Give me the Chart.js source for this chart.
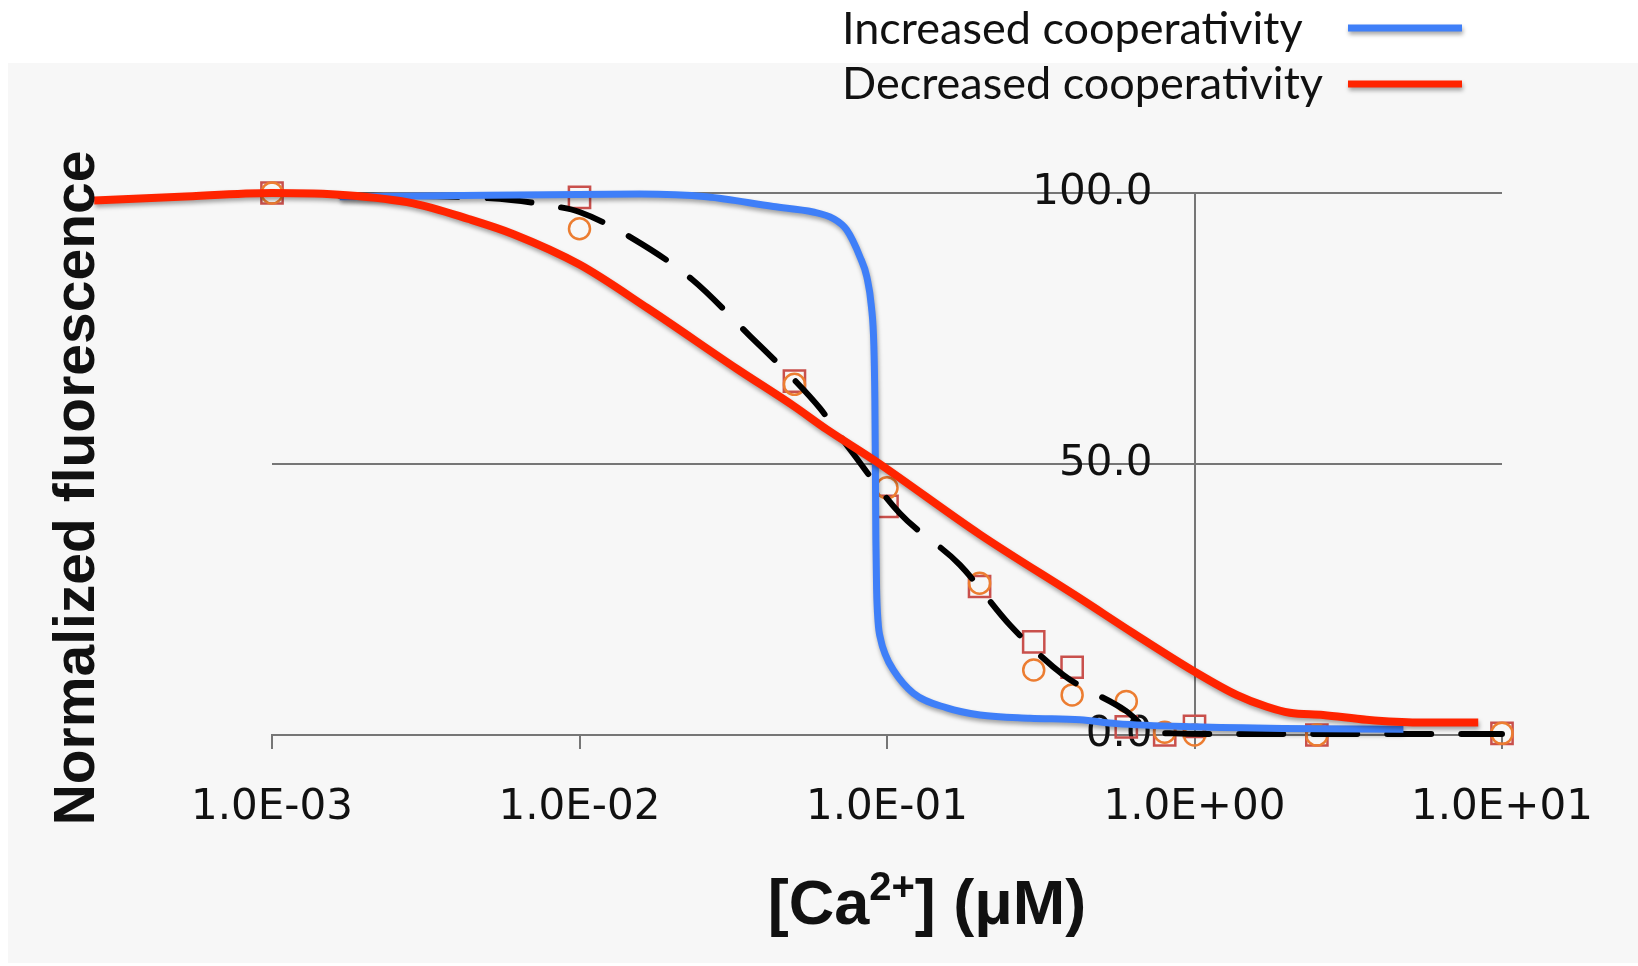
<!DOCTYPE html>
<html>
<head>
<meta charset="utf-8">
<title>Normalized fluorescence vs [Ca2+]</title>
<script src="https://cdn.jsdelivr.net/npm/chart.js@4.4.1/dist/chart.umd.min.js"></script>
<style>
  html, body { margin: 0; padding: 0; background: #ffffff; }
  #contenedor { position: relative; width: 1638px; height: 966px; overflow: hidden; }
  #fondo { position: absolute; left: 8px; top: 63px; width: 1630px; height: 900px; background: #f7f7f7; }
  #grafica { position: absolute; left: 0; top: 0; }
</style>
</head>
<body>
<div id="contenedor">
  <div id="fondo"></div>
  <canvas id="grafica" width="1638" height="966"></canvas>
</div>
<script>
// ==============================
// DATOS
// ==============================

// Ejes
const ticksX = [0.001, 0.01, 0.1, 1, 10];
const etiquetasX = ['1.0E-03', '1.0E-02', '1.0E-01', '1.0E+00', '1.0E+01'];
const ticksY = [0, 50, 100];
const etiquetasY = ['0.0', '50.0', '100.0'];

// Medidas: [Ca2+] (µM)
const xMedidas = [0.001, 0.01, 0.05, 0.1, 0.2, 0.3, 0.4, 0.6, 0.8, 1.0, 2.5, 10];
const yCuadrados = [100, 99.2, 65.3, 42.2, 27.4, 17.2, 12.5, 1.5, 0, 1.6, 0, 0.3];
const yCirculos = [100, 93.4, 64.7, 45.6, 28.0, 12.0, 7.4, 6.2, 0.5, 0, 0, 0.3];

// Ajuste (línea discontinua)
const xAjuste = [0.00166, 0.004, 0.006, 0.0082, 0.01, 0.015, 0.0233, 0.036, 0.05, 0.0605,
                 0.0767, 0.11, 0.1726, 0.251, 0.374, 0.6, 0.72, 0.85, 1.2, 10];
const yAjuste = [99.5, 99.3, 98.7, 97.6, 96.5, 91.5, 84, 73.5, 65.5, 60.3,
                 52.3, 40.9, 31.4, 20.3, 11.1, 4.4, 0.8, 0.3, 0.2, 0.2];

// Curva "Increased cooperativity"
const xAumentada = [0.00166, 0.005, 0.0157, 0.0259, 0.0427, 0.0575, 0.0668, 0.0739, 0.0817, 0.0860,
                    0.0890, 0.0906, 0.0913, 0.0917, 0.0920, 0.0925, 0.0935, 0.0955, 0.0985, 0.1048,
                    0.1218, 0.1565, 0.2006, 0.2917, 0.4246, 0.558, 1.0, 1.94, 4.78];
const yAumentada = [99.3, 99.6, 99.8, 99.3, 97.5, 96.5, 95.3, 93.2, 88.2, 84.5,
                    79, 72, 62, 48, 36, 27, 21, 17.5, 15.0, 12,
                    7.7, 5.0, 3.7, 3.1, 2.8, 2.1, 1.5, 1.2, 1.05];

// Curva "Decreased cooperativity"
const xDisminuida = [0.000264, 0.000502, 0.001, 0.00175, 0.00288, 0.00436, 0.0061, 0.01, 0.0166, 0.0326,
                     0.05, 0.0636, 0.0914, 0.2005, 0.4245, 0.632, 1.0, 1.37, 1.72, 2.04,
                     2.62, 3.63, 5.3, 8.37];
const yDisminuida = [98.6, 99.3, 100, 99.6, 98.1, 95.2, 92.4, 86.8, 78.8, 67.5,
                     60.6, 56.4, 50.6, 37, 25.2, 18.8, 11.7, 7.4, 5.2, 4.1,
                     3.7, 2.8, 2.3, 2.3];

const nombresSeries = ['Decreased cooperativity', 'Increased cooperativity'];

function puntos(xs, ys) {
    return xs.map((x, i) => ({ x: x, y: ys[i] }));
}

// ==============================
// PLUGIN: títulos, leyenda y sombra
// ==============================
const textosExtra = {
    id: 'textosExtra',

    beforeDatasetDraw(chart, args) {
        if (args.index > 1) return;
        const ctx = chart.ctx;
        ctx.save();
        ctx.shadowColor = 'rgba(0, 0, 0, 0.35)';
        ctx.shadowBlur = 4;
        ctx.shadowOffsetX = 1;
        ctx.shadowOffsetY = 3;
    },

    afterDatasetDraw(chart, args) {
        if (args.index > 1) return;
        chart.ctx.restore();
    },

    afterDraw(chart) {
        const ctx = chart.ctx;
        ctx.save();
        ctx.fillStyle = '#111111';
        ctx.textBaseline = 'alphabetic';

        // título eje Y
        ctx.font = 'bold 57px "Liberation Sans", Arial, sans-serif';
        ctx.textAlign = 'center';
        ctx.save();
        ctx.translate(94, 488);
        ctx.rotate(-Math.PI / 2);
        ctx.fillText('Normalized fluorescence', 0, 0);
        ctx.restore();

        // título eje X con superíndice
        const partes = [
            { t: '[Ca', size: 63, dy: 0 },
            { t: '2+', size: 40, dy: -24 },
            { t: '] (\u03BCM)', size: 63, dy: 0 }
        ];
        let ancho = 0;
        partes.forEach(p => {
            ctx.font = 'bold ' + p.size + 'px "Liberation Sans", Arial, sans-serif';
            p.w = ctx.measureText(p.t).width;
            ancho += p.w;
        });
        let x = 927 - ancho / 2;
        ctx.textAlign = 'left';
        partes.forEach(p => {
            ctx.font = 'bold ' + p.size + 'px "Liberation Sans", Arial, sans-serif';
            ctx.fillText(p.t, x, 924 + p.dy);
            x += p.w;
        });

        // leyenda (texto a la izquierda, línea a la derecha)
        const filas = [
            { ds: chart.data.datasets[1], yTexto: 44, yLinea: 28 },
            { ds: chart.data.datasets[0], yTexto: 99, yLinea: 84 }
        ];
        ctx.font = '45px Lato, "Open Sans", sans-serif';
        filas.forEach(f => {
            ctx.fillStyle = '#111111';
            ctx.fillText(f.ds.label, 842, f.yTexto);
            ctx.save();
            ctx.shadowColor = 'rgba(0, 0, 0, 0.35)';
            ctx.shadowBlur = 4;
            ctx.shadowOffsetX = 1;
            ctx.shadowOffsetY = 3;
            ctx.strokeStyle = f.ds.borderColor;
            ctx.lineWidth = 7;
            ctx.beginPath();
            ctx.moveTo(1348, f.yLinea);
            ctx.lineTo(1462, f.yLinea);
            ctx.stroke();
            ctx.restore();
        });

        ctx.restore();
    }
};

// ==============================
// GRÁFICA
// ==============================
const fuenteTicks = { family: '"DejaVu Sans", Verdana, sans-serif', size: 42 };
const gris = '#767676';

new Chart(document.getElementById('grafica').getContext('2d'), {
    type: 'scatter',
    data: {
        datasets: [
            {
                label: nombresSeries[0],
                data: puntos(xDisminuida, yDisminuida),
                showLine: true,
                borderColor: '#ff2400',
                borderWidth: 8,
                pointRadius: 0,
                cubicInterpolationMode: 'monotone',
                clip: false
            },
            {
                label: nombresSeries[1],
                data: puntos(xAumentada, yAumentada),
                showLine: true,
                borderColor: '#3f7ff8',
                borderWidth: 7,
                pointRadius: 0,
                cubicInterpolationMode: 'monotone',
                clip: false
            },
            {
                label: 'Fit',
                data: puntos(xAjuste, yAjuste),
                showLine: true,
                borderColor: '#000000',
                borderWidth: 6,
                borderDash: [44, 30],
                borderCapStyle: 'round',
                pointRadius: 0,
                cubicInterpolationMode: 'monotone',
                clip: false
            },
            {
                label: 'Circles',
                data: puntos(xMedidas, yCirculos),
                pointStyle: 'circle',
                pointRadius: 10.5,
                borderWidth: 2.5,
                borderColor: '#ec7d31',
                backgroundColor: 'rgba(0,0,0,0)',
                clip: false
            },
            {
                label: 'Squares',
                data: puntos(xMedidas, yCuadrados),
                pointStyle: 'rect',
                pointRadius: 15,
                borderWidth: 2.5,
                borderColor: '#c9504c',
                backgroundColor: 'rgba(0,0,0,0)',
                clip: false
            }
        ]
    },
    options: {
        responsive: false,
        animation: false,
        layout: { padding: { left: 272, right: 136, top: 193, bottom: 0 } },
        plugins: {
            legend: { display: false },
            tooltip: { enabled: false }
        },
        scales: {
            x: {
                type: 'logarithmic',
                position: 'bottom',
                afterDataLimits: s => { s.min = ticksX[0]; s.max = ticksX[ticksX.length - 1]; },
                afterBuildTicks: s => { s.ticks = ticksX.map(v => ({ value: v })); },
                afterFit: s => { s.height = 231; },
                grid: { drawOnChartArea: false, drawTicks: true, tickLength: 14, color: gris, lineWidth: 2 },
                border: { display: true, color: gris, width: 2 },
                ticks: {
                    autoSkip: false,
                    maxRotation: 0,
                    padding: 34,
                    color: '#111111',
                    font: fuenteTicks,
                    callback: (v, i) => etiquetasX[i]
                }
            },
            y: {
                type: 'linear',
                position: { x: 1 },
                min: 0,
                max: 100,
                afterBuildTicks: s => { s.ticks = ticksY.map(v => ({ value: v })); },
                grid: { color: gris, lineWidth: 2, drawTicks: true, tickLength: 15 },
                border: { display: true, color: gris, width: 2 },
                ticks: {
                    color: '#111111',
                    font: fuenteTicks,
                    // el eje está en x = 1: un espacio em separa la etiqueta del eje
                    callback: (v, i) => etiquetasY[i] + '\u2003'
                }
            }
        }
    },
    plugins: [textosExtra]
});
</script>
</body>
</html>
